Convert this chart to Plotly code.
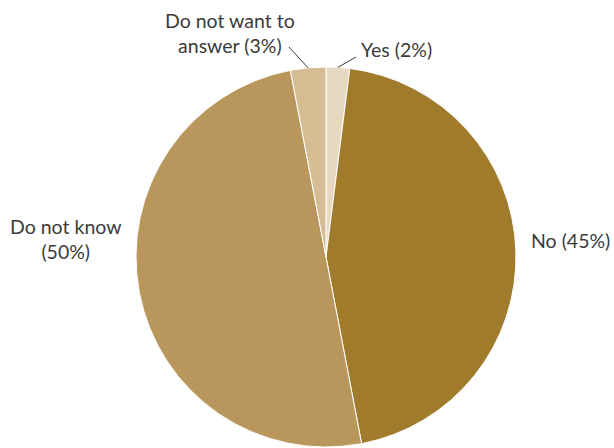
import math
import plotly.graph_objects as go

# Survey answers (share of respondents, %)
categories = ["Yes", "No", "Do not know", "Do not want to answer"]
shares = [2, 45, 50, 3]
colors = ["#e6d8c1", "#a17b2c", "#b9975c", "#d5bc93"]
label_texts = ["Yes (2%)", "No (45%)", "Do not know<br>(50%)", "Do not want to<br>answer (3%)"]

W, H = 614, 448
CX, CY, R = 326, 257, 190  # pie centre and radius in pixels

fig = go.Figure(go.Pie(
    labels=categories,
    values=shares,
    sort=False,
    direction="clockwise",
    rotation=0,
    marker=dict(colors=colors, line=dict(color="white", width=1)),
    textinfo="none",
    hoverinfo="label+percent",
    showlegend=False,
    domain=dict(x=[(CX - R) / W, (CX + R) / W], y=[(H - CY - R) / H, (H - CY + R) / H]),
))

def px(x, y):
    return x / W, 1 - y / H

# label placement (pixel anchor, alignment, optional leader end point)
placement = {
    "Yes": dict(pos=(359, 49), xanchor="left", leader=(356, 57)),
    "No": dict(pos=(529, 240), xanchor="left", leader=None),
    "Do not know": dict(pos=(66, 239), xanchor="center", leader=None),
    "Do not want to answer": dict(pos=(230, 33), xanchor="center", leader=(289, 47)),
}

total = sum(shares)
start = 0.0
annotations, shapes = [], []
for cat, val, txt in zip(categories, shares, label_texts):
    mid = start + val / total * 360 / 2
    start += val / total * 360
    p = placement[cat]
    x, y = px(*p["pos"])
    annotations.append(dict(
        x=x, y=y, xref="paper", yref="paper", text=txt, showarrow=False,
        xanchor=p["xanchor"], yanchor="middle", align="center",
        font=dict(family="Lato, Open Sans, sans-serif", size=19.5, color="#3b3b3b"),
    ))
    if p["leader"]:
        a = math.radians(mid)
        ex, ey = CX + R * math.sin(a), CY - R * math.cos(a)
        x0, y0 = px(ex, ey)
        x1, y1 = px(*p["leader"])
        shapes.append(dict(type="line", xref="paper", yref="paper",
                           x0=x0, y0=y0, x1=x1, y1=y1,
                           line=dict(color="#3b3b3b", width=1)))

fig.update_layout(
    width=W, height=H,
    margin=dict(l=0, r=0, t=0, b=0),
    paper_bgcolor="white", plot_bgcolor="white",
    annotations=annotations, shapes=shapes,
)

fig.write_html("out.html")
